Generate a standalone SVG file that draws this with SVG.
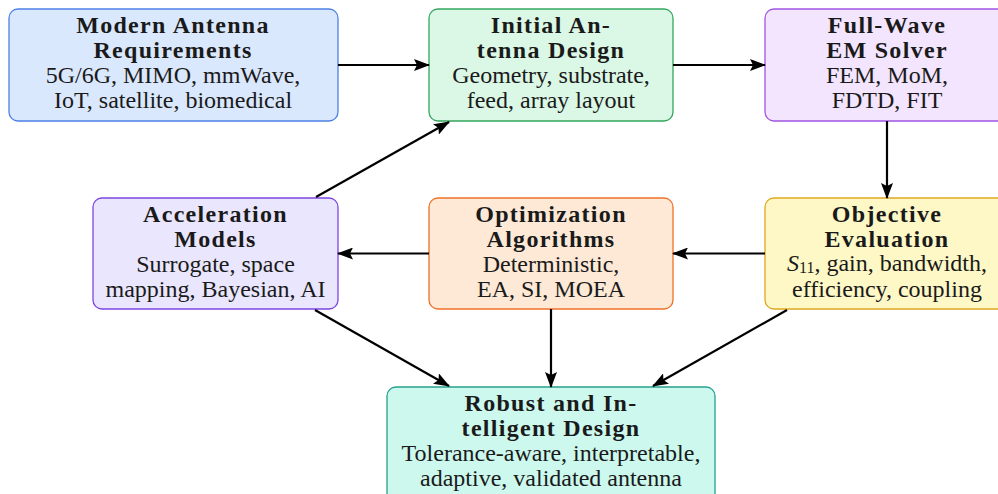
<svg xmlns="http://www.w3.org/2000/svg" width="998" height="494" viewBox="0 0 998 494">
<defs>
<marker id="ah" viewBox="0 0 16 12" refX="15" refY="6" markerWidth="16" markerHeight="12" markerUnits="userSpaceOnUse" orient="auto">
<path d="M0,0 L16,6 L0,12 L3,6 Z" fill="#000"/>
</marker>
<style>
text{font-family:"Liberation Serif","Times New Roman",serif;font-size:24px;fill:#1a1a1a;text-anchor:middle}
.t{font-weight:bold;letter-spacing:1.3px}
.box{stroke-width:1.3}
.c line{stroke:#000;stroke-width:2.2;marker-end:url(#ah)}
</style>
</defs>
<rect width="998" height="494" fill="#fff"/>
<g id="n1"><rect class="box" x="9" y="9" width="329" height="112" rx="9" fill="#dae8fd" stroke="#4d80e6"/>
<text x="173" y="33" class="t">Modern Antenna</text><text x="173" y="57.5" class="t">Requirements</text>
<text x="173" y="82.5">5G/6G, MIMO, mmWave,</text><text x="173" y="107.5">IoT, satellite, biomedical</text></g>
<g id="n2"><rect class="box" x="429" y="9" width="244" height="112" rx="9" fill="#dbf7e6" stroke="#34a85f"/>
<text x="551" y="33" class="t">Initial An-</text><text x="551" y="57.5" class="t">tenna Design</text>
<text x="551" y="82.5">Geometry, substrate,</text><text x="551" y="107.5">feed, array layout</text></g>
<g id="n3"><rect class="box" x="765" y="9" width="244" height="112" rx="9" fill="#f2e5fd" stroke="#a155e3"/>
<text x="887" y="33" class="t">Full-Wave</text><text x="887" y="57.5" class="t">EM Solver</text>
<text x="887" y="82.5">FEM, MoM,</text><text x="887" y="107.5">FDTD, FIT</text></g>
<g id="n4"><rect class="box" x="93" y="198" width="245" height="111" rx="9" fill="#e9e6fd" stroke="#7e45e2"/>
<text x="215.5" y="222" class="t">Acceleration</text><text x="215.5" y="246.5" class="t">Models</text>
<text x="215.5" y="271.5">Surrogate, space</text><text x="215.5" y="296.5">mapping, Bayesian, AI</text></g>
<g id="n5"><rect class="box" x="429" y="198" width="244" height="111" rx="9" fill="#fde9d6" stroke="#ef7227"/>
<text x="551" y="222" class="t">Optimization</text><text x="551" y="246.5" class="t">Algorithms</text>
<text x="551" y="271.5">Deterministic,</text><text x="551" y="296.5">EA, SI, MOEA</text></g>
<g id="n6"><rect class="box" x="765" y="198" width="244" height="111" rx="9" fill="#fef8c6" stroke="#dfa821"/>
<text x="887" y="222" class="t">Objective</text><text x="887" y="246.5" class="t">Evaluation</text>
<text x="887" y="271"><tspan font-style="italic">S</tspan><tspan dy="2" font-size="16">11</tspan><tspan dy="-2">, gain, bandwidth,</tspan></text><text x="887" y="296.5">efficiency, coupling</text></g>
<g id="n7"><rect class="box" x="387" y="387" width="328" height="115" rx="9" fill="#ccf8ee" stroke="#24a28e"/>
<text x="551" y="411" class="t">Robust and In-</text><text x="551" y="435.5" class="t">telligent Design</text>
<text x="551" y="461">Tolerance-aware, interpretable,</text><text x="551" y="486">adaptive, validated antenna</text></g>
<g id="connectors" class="c">
<line x1="338" y1="65" x2="429" y2="65"/>
<line x1="673" y1="65" x2="765" y2="65"/>
<line x1="887" y1="121" x2="887" y2="198"/>
<line x1="765" y1="253.5" x2="673" y2="253.5"/>
<line x1="429" y1="253.5" x2="338" y2="253.5"/>
<line x1="316" y1="197" x2="449" y2="122"/>
<line x1="315" y1="310" x2="449" y2="386"/>
<line x1="551" y1="309" x2="551" y2="387"/>
<line x1="787" y1="310" x2="653" y2="386"/>
</g>
</svg>
